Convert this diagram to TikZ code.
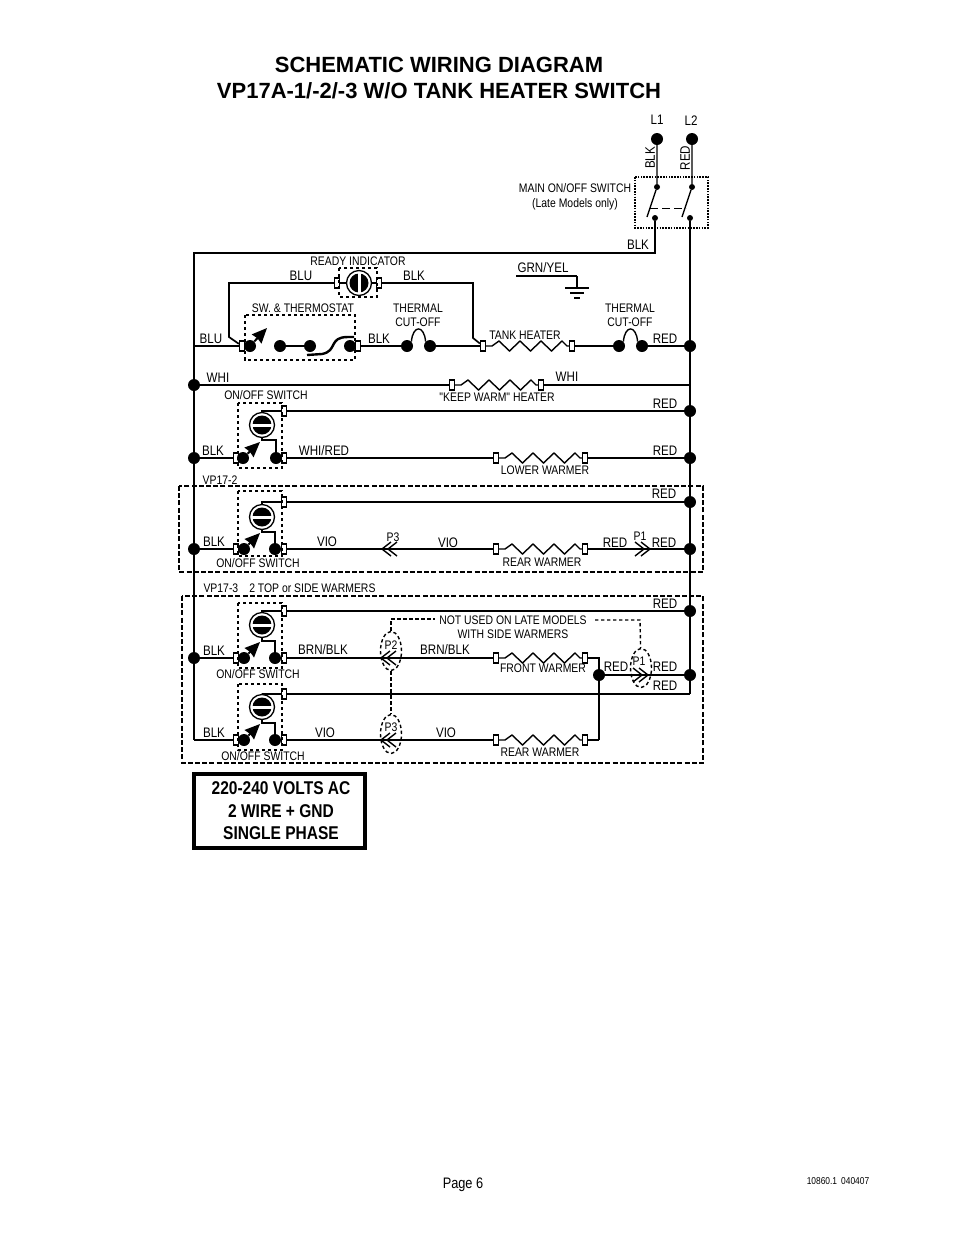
\documentclass[tikz,border=0pt]{standalone}
\usepackage{fontspec}
\setmainfont{Liberation Sans}
\newfontfamily\narrowfont[FakeStretch=0.84]{Liberation Sans}
\usetikzlibrary{arrows.meta}
\usetikzlibrary{shapes.geometric}
\tikzset{
  wire/.style={line width=1.4pt},
  bold/.style={line width=2.2pt},
  heater/.style={line width=1.4pt, to path={-- ++(9,0) -- ++(7,-5) -- ++(10.5,10) -- ++(10.5,-10) -- ++(10.5,10) -- ++(10.5,-10) -- ++(10.5,10) -- ++(10.5,-10) -- ++(5,5) -- (\tikztotarget)}},
  dot/.style={circle, fill=black, minimum size=12pt, inner sep=0pt},
  smalldot/.style={circle, fill=black, minimum size=6pt, inner sep=0pt},
  term/.style={rectangle, draw=black, fill=white, line width=1.2pt, minimum width=5pt, minimum height=10pt, inner sep=0pt},
  lamp/.style={circle, draw=black, fill=white, line width=1.3pt, minimum size=25pt, inner sep=0pt},
  lampin/.style={circle, fill=black, minimum size=19pt, inner sep=0pt},
  dbox/.style={line width=1.4pt, dash pattern=on 3.4pt off 2.6pt},
  obox/.style={line width=1.3pt, dash pattern=on 5pt off 2.2pt},
  sdot/.style={line width=1.2pt, dash pattern=on 1.6pt off 1.2pt},
  blade/.style={line width=2pt, -{Stealth[length=15pt, width=13pt, inset=1pt]}},
  plug/.style={ellipse, draw=black, dbox, minimum width=21pt, minimum height=39pt, inner sep=0pt},
  lab/.style={font=\narrowfont\fontsize{13.8}{14}\selectfont, inner sep=0pt},
  sm/.style={font=\narrowfont\fontsize{12.4}{13}\selectfont, inner sep=0pt},
  rate/.style={font=\narrowfont\bfseries\fontsize{18.5}{19}\selectfont, inner sep=0pt},
  head/.style={font=\bfseries\fontsize{22}{23}\selectfont, inner sep=0pt},
}
\begin{document}
\begin{tikzpicture}[x=1pt,y=-1pt]
\useasboundingbox (0,0) rectangle (954,1235);
\coordinate (topl) at (194,253);
\coordinate (topr) at (655,253);
\coordinate (blu1) at (229,283);
\coordinate (blu2) at (229,337);
\coordinate (blk1) at (473,283);
\coordinate (blk2) at (473,338);
\coordinate (bot) at (194,740);
\coordinate (corner) at (690,694);
\coordinate (jog) at (599,658);
\coordinate (jog2) at (599,740);

% supply
\node[dot] (ll) at (657,139) {};
\node[dot] (lr) at (692,139) {};
\node[smalldot] (cl) at (657,187) {};
\node[smalldot] (cr) at (692,187) {};
\node[smalldot] (ol) at (655,218) {};
\node[smalldot] (or) at (690,218) {};
\coordinate (bl) at (647,217);
\coordinate (br) at (682,217);
\draw[wire] (ll) -- (cl) -- (bl); %1
\draw[wire] (lr) -- (cr) -- (br);
\draw[line width=1pt, dash pattern=on 8pt off 4pt] (650,208) -- (686,208);
\draw[sdot] (635,177) rectangle (708,228);
\draw[bold] (ol) -- (topr) -- (topl) -- (bot);
\draw[bold] (or) -- (corner);
% ground
\coordinate (ga) at (516,276);
\coordinate (gb) at (577,276);
\coordinate (gc) at (577,288);
\draw[bold] (ga) -- (gb);
\draw[wire] (gb) -- (gc);
\draw[wire] (565,288) -- (589,288);
\draw[wire] (570,293) -- (584,293);
\draw[bold] (574,298) -- (580,298);

% ready indicator
\node[term] (ra) at (337,283) {};
\node[term] (rb) at (379,283) {};
\node[lamp] (rl) at (359,283) {};
\node[lampin] (ri) at (359,283) {};
\draw[white, line width=3pt] (ri.north) -- (ri.south);
\draw[dbox] (339,268) rectangle (377,297);
\draw[bold] (rl) -- (ra);
\draw[bold] (rl) -- (rb);

% thermostat row
\node[term] (ta) at (242,346) {};
\node[dot] (tb) at (250,346) {};
\node[dot] (tc) at (280,346) {};
\node[dot] (td) at (310,346) {};
\node[dot] (te) at (350,346) {};
\node[term] (tf) at (358,346) {};
\node[dot] (tg) at (407,346) {};
\node[dot] (th) at (430,346) {};
\node[term] (ti) at (483,346) {};
\node[term] (tj) at (572,346) {};
\node[dot] (tk) at (619,346) {};
\node[dot] (tl) at (642,346) {};
\node[dot] (tm) at (690,346) {};
\coordinate (tn) at (194,346);
\coordinate (to) at (267,328);
\draw[wire, line width=1.7pt] (ra) -- (blu1) -- (blu2) -- (ta);
\draw[wire, line width=1.7pt] (rb) -- (blk1) -- (blk2) -- (ti);
\draw[bold] (tn) -- (ta);
\draw[blade] (tb) -- (to);
\draw[bold] (tc) -- (td);
\draw[bold, line width=2.4pt] (307,355) -- (322,354) .. controls (338,351) and (328,337) .. (348,337) -- (354,337);
\draw[dbox] (245,315) rectangle (355,360);
\draw[bold] (tf) -- (tg);
\draw[wire] (tg.north east) to[out=85, in=95, distance=17pt] (th.north west);
\draw[wire] (th) -- (ti);
\draw[heater] (ti) to (tj);
\draw[bold] (tj) -- (tk);
\draw[wire] (tk.north east) to[out=85, in=95, distance=17pt] (tl.north west);
\draw[wire] (tl) -- (tm);

% keep warm row
\node[dot] (ka) at (194,385) {};
\node[term] (kb) at (452,385) {};
\node[term] (kc) at (541,385) {};
\coordinate (kd) at (690,385);
\draw[wire] (ka) -- (kb);
\draw[heater] (kb) to (kc);
\draw[bold] (kc) -- (kd);

% lower warmer
\node[lamp] (sal) at (262,425) {};
\node[lampin] (sai) at (262,425) {};
\draw[white, line width=3pt] (sai.west) -- (sai.east);
\node[term] (sat) at (284,411) {};
\node[dot] (sar) at (690,411) {};
\node[dot] (sab) at (194,458) {};
\node[term] (sac) at (236,458) {};
\node[dot] (sad) at (243,458) {};
\node[dot] (sae) at (276,458) {};
\node[term] (saf) at (284,458) {};
\node[term] (sag) at (496,458) {};
\node[term] (sah) at (585,458) {};
\node[dot] (saj) at (690,458) {};
\coordinate (saa) at (260,442);
\coordinate (sak) at (262,411);
\coordinate (sam) at (262,440);
\coordinate (san) at (276,440);
\draw[dbox] (238,403) rectangle (282,468);
\draw[bold] (sal) -- (sak) -- (sat);
\draw[bold] (sat) -- (sar);
\draw[bold] (sal) -- (sam) -- (san) -- (sae);
\draw[wire] (sab) -- (sac);
\draw[blade] (sad) -- (saa);
\draw[wire] (saf) -- (sag);
\draw[heater] (sag) to (sah);
\draw[wire] (sah) -- (saj);

% VP17-2
\draw[obox] (179,486) rectangle (703,572);
\node[lamp] (sbl) at (262,517) {};
\node[lampin] (sbi) at (262,517) {};
\draw[white, line width=3pt] (sbi.west) -- (sbi.east);
\node[term] (sbt) at (284,502) {};
\node[dot] (sbr) at (690,502) {};
\node[dot] (sbb) at (194,549) {};
\node[term] (sbc) at (236,549) {};
\node[dot] (sbd) at (244,549) {};
\node[dot] (sbe) at (275,549) {};
\node[term] (sbf) at (284,549) {};
\node[term] (sbg) at (496,549) {};
\node[term] (sbh) at (585,549) {};
\node[dot] (sbj) at (690,549) {};
\coordinate (sba) at (260,533);
\coordinate (sbk) at (262,502);
\coordinate (sbm) at (262,532);
\coordinate (sbn) at (275,532);
\coordinate (pa) at (382,549);
\coordinate (pb) at (388,549);
\coordinate (pc) at (650,549);
\coordinate (pd) at (644,549);
\draw[dbox] (238,491) rectangle (282,556);
\draw[wire] (sbl) -- (sbk) -- (sbt);
\draw[wire] (sbt) -- (sbr);
\draw[wire] (sbl) -- (sbm) -- (sbn) -- (sbe);
\draw[wire] (sbb) -- (sbc);
\draw[blade] (sbd) -- (sba);
\draw[wire] (sbf) -- (sbg);
\draw[heater] (sbg) to (sbh);
\draw[wire] (sbh) -- (sbj);
\draw[wire] (pa) ++(9,-7) -- (pa) -- ++(9,7);
\draw[wire] (pb) ++(9,-7) -- (pb) -- ++(9,7);
\draw[wire] (pc) ++(-9,-7) -- (pc) -- ++(-9,7);
\draw[wire] (pd) ++(-9,-7) -- (pd) -- ++(-9,7);

% VP17-3
\draw[obox] (182,596) rectangle (703,763);
\node[lamp] (scl) at (262,625) {};
\node[lampin] (sci) at (262,625) {};
\draw[white, line width=3pt] (sci.west) -- (sci.east);
\node[term] (sct) at (284,611) {};
\node[dot] (scr) at (690,611) {};
\node[dot] (scb) at (194,658) {};
\node[term] (scc) at (236,658) {};
\node[dot] (scd) at (244,658) {};
\node[dot] (sce) at (275,658) {};
\node[term] (scf) at (284,658) {};
\node[term] (scg) at (496,658) {};
\node[term] (sch) at (585,658) {};
\coordinate (sca) at (260,642);
\coordinate (sck) at (262,611);
\coordinate (scm) at (262,641);
\coordinate (scn) at (275,641);
\draw[dbox] (238,603) rectangle (282,668);
\draw[wire] (scl) -- (sck) -- (sct);
\draw[wire] (sct) -- (scr);
\draw[wire] (scl) -- (scm) -- (scn) -- (sce);
\draw[wire] (scb) -- (scc);
\draw[blade] (scd) -- (sca);
\draw[wire] (scf) -- (scg);
\draw[heater] (scg) to (sch);
\draw[wire] (sch) -- (jog) -- (jog2);

\node[lamp] (sdl) at (262,707) {};
\node[lampin] (sdi) at (262,707) {};
\draw[white, line width=3pt] (sdi.west) -- (sdi.east);
\node[term] (sdt) at (284,694) {};
\node[term] (sdc) at (236,740) {};
\node[dot] (sdd) at (244,740) {};
\node[dot] (sde) at (275,740) {};
\node[term] (sdf) at (284,740) {};
\node[term] (sdg) at (496,740) {};
\node[term] (sdh) at (585,740) {};
\coordinate (sda) at (260,724);
\coordinate (sdk) at (262,694);
\coordinate (sdm) at (262,723);
\coordinate (sdn) at (275,723);
\draw[dbox] (238,684) rectangle (282,750);
\draw[wire] (sdl) -- (sdk) -- (sdt);
\draw[wire] (sdt) -- (corner);
\draw[wire] (sdl) -- (sdm) -- (sdn) -- (sde);
\draw[wire] (bot) -- (sdc);
\draw[blade] (sdd) -- (sda);
\draw[wire] (sdf) -- (sdg);
\draw[heater] (sdg) to (sdh);
\draw[wire] (sdh) -- (jog2);

% plugs
\node[dot] (pe) at (599,675) {};
\node[dot] (pf) at (690,675) {};
\draw[bold] (pe) -- (pf);
\coordinate (pg) at (381,658);
\coordinate (ph) at (387,658);
\coordinate (pi) at (381,740);
\coordinate (pj) at (387,740);
\coordinate (pk) at (648,675);
\coordinate (pm) at (642,675);
\draw[wire] (pg) ++(9,-7) -- (pg) -- ++(9,7);
\draw[wire] (ph) ++(9,-7) -- (ph) -- ++(9,7);
\draw[wire] (pi) ++(9,-7) -- (pi) -- ++(9,7);
\draw[wire] (pj) ++(9,-7) -- (pj) -- ++(9,7);
\draw[wire] (pk) ++(-9,-7) -- (pk) -- ++(-9,7);
\draw[wire] (pm) ++(-9,-7) -- (pm) -- ++(-9,7);
\node[plug] (ptwo) at (391,651) {};
\node[plug] (pthree) at (391,734) {};
\node[plug] (pone) at (641,668) {};
\coordinate (na) at (391,619);
\coordinate (nb) at (435,619);
\coordinate (nc) at (595,620);
\coordinate (nd) at (640,620);
\draw[dbox] (ptwo) -- (pthree);
\draw[dbox] (ptwo) -- (na) -- (nb);
\draw[dbox] (nc) -- (nd) -- (pone);

% texts
\node[head] (titlea) at (439,65) {SCHEMATIC WIRING DIAGRAM};
\node[head] (titleb) at (439,91) {VP17A-1/-2/-3 W/O TANK HEATER SWITCH};
\node[lab] (tl1) at (657,120) {L1};
\node[lab] (tl2) at (691,121) {L2};
\node[lab, rotate=90] (tblk0) at (650,158) {BLK};
\node[lab, rotate=90] (tred0) at (685,158) {RED};
\node[sm] (tmain) at (575,188) {MAIN ON/OFF SWITCH};
\node[sm] (tlate) at (575,204) {(Late Models only)};
\node[lab] (tblk1) at (638,245) {BLK};
\node[sm] (tready) at (358,261) {READY INDICATOR};
\node[lab] (tblu1) at (301,276) {BLU};
\node[lab] (tblk2) at (414,276) {BLK};
\node[lab] (tgrn) at (543,268) {GRN/YEL};
\node[sm] (tsw) at (303,308) {SW. \& THERMOSTAT};
\node[sm] (tcut1) at (418,308) {THERMAL};
\node[sm] (tcut2) at (418,322) {CUT-OFF};
\node[sm] (tcut3) at (630,308) {THERMAL};
\node[sm] (tcut4) at (630,322) {CUT-OFF};
\node[sm] (ttank) at (525,335) {TANK HEATER};
\node[lab] (tblu2) at (211,339) {BLU};
\node[lab] (tblk3) at (379,339) {BLK};
\node[lab] (tred1) at (665,339) {RED};
\node[lab] (twhi1) at (218,378) {WHI};
\node[lab] (twhi2) at (567,377) {WHI};
\node[sm] (tsa) at (266,395) {ON/OFF SWITCH};
\node[sm] (tkeep) at (497,397) {"KEEP WARM" HEATER};
\node[lab] (tred2) at (665,404) {RED};
\node[lab] (tblk4) at (213,451) {BLK};
\node[lab] (twr) at (324,451) {WHI/RED};
\node[lab] (tred3) at (665,451) {RED};
\node[sm] (tlow) at (545,470) {LOWER WARMER};
\node[sm] (tvpa) at (220,480) {VP17-2};
\node[lab] (tred4) at (664,494) {RED};
\node[lab] (tblk5) at (214,542) {BLK};
\node[lab] (tvio1) at (327,542) {VIO};
\node[sm] (tp3a) at (393,537) {P3};
\node[lab] (tvio2) at (448,543) {VIO};
\node[lab] (tred5) at (615,543) {RED};
\node[sm] (tp1a) at (640,536) {P1};
\node[lab] (tred6) at (664,543) {RED};
\node[sm] (tsb) at (258,563) {ON/OFF SWITCH};
\node[sm] (trear1) at (542,562) {REAR WARMER};
\node[sm] (tvpb) at (289.5,588) {VP17-3\hspace{11pt}2 TOP or SIDE WARMERS};
\node[lab] (tred7) at (665,604) {RED};
\node[sm] (tnot1) at (513,620) {NOT USED ON LATE MODELS};
\node[sm] (tnot2) at (513,634) {WITH SIDE WARMERS};
\node[lab] (tblk6) at (214,651) {BLK};
\node[lab] (tbb1) at (323,650) {BRN/BLK};
\node[sm] (tp2) at (391,645) {P2};
\node[lab] (tbb2) at (445,650) {BRN/BLK};
\node[sm] (tfront) at (543,668) {FRONT WARMER};
\node[lab] (tred8) at (616,667) {RED};
\node[sm] (tp1b) at (639,661) {P1};
\node[lab] (tred9) at (665,667) {RED};
\node[lab] (tred10) at (665,686) {RED};
\node[sm] (tsc) at (258,674) {ON/OFF SWITCH};
\node[lab] (tblk7) at (214,733) {BLK};
\node[lab] (tvio3) at (325,733) {VIO};
\node[sm] (tp3b) at (391,727) {P3};
\node[lab] (tvio4) at (446,733) {VIO};
\node[sm] (trear2) at (540,752) {REAR WARMER};
\node[sm] (tsd) at (263,756) {ON/OFF SWITCH};

% rating box
\draw[line width=3.6pt] (194,774) rectangle (365,848);
\node[rate] (volta) at (281,788) {220-240 VOLTS AC};
\node[rate] (voltb) at (281,811) {2 WIRE + GND};
\node[rate] (voltc) at (281,833) {SINGLE PHASE};
\node[font=\narrowfont\fontsize{15.2}{16}\selectfont, inner sep=0pt] (page) at (463,1185) {Page 6};
\node[font=\narrowfont\fontsize{10}{11}\selectfont, inner sep=0pt] (code) at (838,1181) {10860.1\hspace{4pt}040407};
\end{tikzpicture}
\end{document}
